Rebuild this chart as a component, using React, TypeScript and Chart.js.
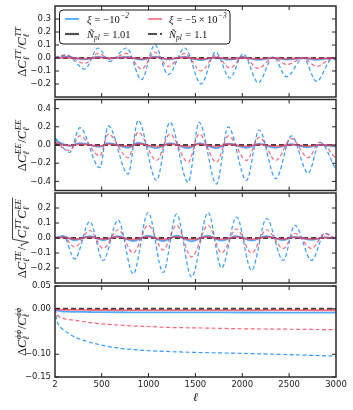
import React, { useEffect, useRef } from 'react';
import { Chart, registerables } from 'chart.js';

Chart.register(...registerables);

const W = 353;
const H = 410;
const PLOT_LEFT = 55;
const PLOT_RIGHT = 336;

// ---------- data ----------
const X_TICKS = [2, 500, 1000, 1500, 2000, 2500, 3000];

// TT panel
const ellTT = [2, 120, 320, 462, 587, 765, 925, 1067, 1209, 1387, 1560, 1715, 1868, 2010, 2170, 2330, 2473, 2650, 2793, 2960, 3000];
const ttBlueDashed = [0.005, 0.025, -0.085, 0.077, -0.026, 0.077, -0.167, 0.102, -0.128, 0.077, -0.2, 0.045, -0.154, 0.032, -0.19, 0.008, -0.145, 0.0, -0.18, -0.005, -0.015];
const ttRedDashed = [0.0, 0.02, -0.042, 0.035, -0.01, 0.035, -0.085, 0.045, -0.065, 0.035, -0.1, 0.02, -0.077, 0.012, -0.08, 0.002, -0.05, -0.003, -0.065, -0.005, -0.012];
const ttBlueSolid = [0.0, 0.008, -0.01, 0.008, -0.003, 0.008, -0.014, 0.01, -0.011, 0.008, -0.016, 0.005, -0.013, 0.004, -0.015, 0.001, -0.012, 0.0, -0.014, -0.001, -0.003];
const ttRedSolid = [0.0, 0.004, -0.005, 0.004, -0.001, 0.004, -0.007, 0.005, -0.006, 0.004, -0.008, 0.003, -0.006, 0.002, -0.007, 0.0, -0.006, 0.0, -0.007, 0.0, -0.002];
const ttTicks = [-0.2, -0.1, 0.0, 0.1, 0.2, 0.3];

// EE panel
const ellEE = [2, 160, 267, 480, 570, 782, 889, 1085, 1227, 1423, 1540, 1725, 1850, 2045, 2180, 2358, 2525, 2703, 2828, 3000];
const eeBlueDashed = [0.08, -0.08, 0.19, -0.25, 0.21, -0.32, 0.27, -0.39, 0.25, -0.41, 0.25, -0.43, 0.2, -0.39, 0.165, -0.37, 0.1, -0.31, 0.03, -0.27];
const eeRedDashed = [0.03, -0.06, 0.1, -0.12, 0.12, -0.14, 0.14, -0.17, 0.12, -0.19, 0.12, -0.19, 0.1, -0.17, 0.085, -0.17, 0.07, -0.14, 0.03, -0.15];
const eeBlueSolid = [0.05, -0.01, 0.02, -0.02, 0.02, -0.03, 0.025, -0.035, 0.02, -0.035, 0.02, -0.035, 0.015, -0.03, 0.012, -0.03, 0.008, -0.025, 0.003, -0.02];
const eeRedSolid = [0.025, -0.005, 0.01, -0.01, 0.01, -0.015, 0.012, -0.017, 0.01, -0.018, 0.01, -0.018, 0.008, -0.015, 0.006, -0.015, 0.004, -0.012, 0.002, -0.01];
const eeTicks = [-0.4, -0.2, 0.0, 0.2, 0.4];

// TE panel
const ellTE = [2, 90, 213, 373, 515, 675, 836, 996, 1156, 1299, 1459, 1636, 1779, 1939, 2099, 2259, 2437, 2561, 2740, 2881, 3000];
const teBlueDashed = [0.0, 0.015, -0.14, 0.11, -0.15, 0.12, -0.24, 0.17, -0.23, 0.16, -0.26, 0.17, -0.2, 0.14, -0.215, 0.13, -0.15, 0.085, -0.15, 0.03, -0.02];
const teRedDashed = [0.0, 0.005, -0.06, 0.05, -0.07, 0.055, -0.1, 0.085, -0.08, 0.085, -0.127, 0.085, -0.1, 0.06, -0.1, 0.055, -0.07, 0.03, -0.07, 0.03, -0.005];
const teBlueSolid = [0.0, 0.01, -0.015, 0.012, -0.015, 0.012, -0.02, 0.015, -0.02, 0.015, -0.022, 0.015, -0.018, 0.012, -0.018, 0.012, -0.014, 0.008, -0.013, 0.004, -0.002];
const teRedSolid = [0.0, 0.005, -0.008, 0.006, -0.008, 0.006, -0.01, 0.008, -0.01, 0.008, -0.011, 0.008, -0.009, 0.006, -0.009, 0.006, -0.007, 0.004, -0.007, 0.002, -0.001];
const teTicks = [-0.2, -0.1, 0.0, 0.1, 0.2];

// phi-phi panel
const ellPP = [2, 25, 50, 90, 150, 200, 300, 400, 550, 700, 850, 1000, 1200, 1500, 2000, 2500, 3000];
const ppBlueDashed = [0.0, -0.028, -0.038, -0.046, -0.055, -0.061, -0.069, -0.075, -0.082, -0.087, -0.09, -0.092, -0.094, -0.096, -0.098, -0.101, -0.104];
const ppRedDashed = [0.0, -0.013, -0.018, -0.021, -0.024, -0.025, -0.028, -0.031, -0.034, -0.036, -0.038, -0.039, -0.041, -0.042, -0.044, -0.045, -0.046];
const ppBlueSolid = [0.0, -0.004, -0.005, -0.006, -0.0065, -0.007, -0.007, -0.0072, -0.0075, -0.0077, -0.0078, -0.0079, -0.008, -0.008, -0.0082, -0.0083, -0.0085];
const ppRedSolid = [0.0, -0.0015, -0.002, -0.0022, -0.0024, -0.0025, -0.0026, -0.0027, -0.0028, -0.0029, -0.003, -0.003, -0.003, -0.0031, -0.0032, -0.0032, -0.0033];
const ppTicks = [-0.15, -0.1, 0.0, 0.05];

// ---------- styles ----------
const BLUE = 'rgba(30,144,255,0.9)';
const RED = 'rgba(240,55,80,0.75)';
const BLUE_SOLID = 'rgba(30,144,255,0.75)';
const RED_SOLID = 'rgba(240,55,80,0.7)';
const ZERO = 'rgba(30,30,30,0.85)';
const TICK_FAMILY = '"DejaVu Sans", sans-serif';
const TICK_SIZE = 8.5;
const MATH_FAMILY = '"Liberation Serif", "DejaVu Serif", serif';

type Seg =
  | { k: 't'; s: string; it?: boolean }
  | { k: 'ss'; sub?: string; sup?: string }
  | { k: 'sqrt'; body: Seg[] }
  | { k: 'sp'; w: number };

const mf = (size: number, it?: boolean) => `${it ? 'italic ' : ''}${size}px ${MATH_FAMILY}`;

function segWidth(ctx: CanvasRenderingContext2D, segs: Seg[], F: number): number {
  let w = 0;
  for (const s of segs) {
    if (s.k === 't') {
      ctx.font = mf(F, s.it);
      w += ctx.measureText(s.s).width;
    } else if (s.k === 'ss') {
      ctx.font = mf(F * 0.7, true);
      const a = s.sub ? ctx.measureText(s.sub).width : 0;
      const b = s.sup ? ctx.measureText(s.sup).width + F * 0.05 : 0;
      w += Math.max(a, b) + F * 0.06;
    } else if (s.k === 'sqrt') {
      w += F * 0.7 + segWidth(ctx, s.body, F) + F * 0.05;
    } else {
      w += s.w * F;
    }
  }
  return w;
}

function drawSegs(ctx: CanvasRenderingContext2D, segs: Seg[], F: number, x0: number, y: number): number {
  let x = x0;
  for (const s of segs) {
    if (s.k === 't') {
      ctx.font = mf(F, s.it);
      ctx.fillText(s.s, x, y);
      x += ctx.measureText(s.s).width;
    } else if (s.k === 'ss') {
      ctx.font = mf(F * 0.7, true);
      let w = 0;
      if (s.sup) {
        ctx.fillText(s.sup, x + F * 0.05, y - F * 0.42);
        w = Math.max(w, ctx.measureText(s.sup).width + F * 0.05);
      }
      if (s.sub) {
        ctx.fillText(s.sub, x, y + F * 0.25);
        w = Math.max(w, ctx.measureText(s.sub).width);
      }
      x += w + F * 0.06;
    } else if (s.k === 'sqrt') {
      const bw = segWidth(ctx, s.body, F);
      const top = y - F * 1.08;
      ctx.save();
      ctx.lineWidth = Math.max(0.8, F * 0.06);
      ctx.beginPath();
      ctx.moveTo(x + F * 0.05, y - F * 0.33);
      ctx.lineTo(x + F * 0.17, y - F * 0.4);
      ctx.lineTo(x + F * 0.36, y + F * 0.2);
      ctx.lineTo(x + F * 0.62, top);
      ctx.lineTo(x + F * 0.7 + bw + F * 0.05, top);
      ctx.stroke();
      ctx.restore();
      x = drawSegs(ctx, s.body, F, x + F * 0.7, y);
      x += F * 0.05;
    } else {
      x += s.w * F;
    }
  }
  return x;
}

const T = (s: string, it = false): Seg => ({ k: 't', s, it });
const SS = (sub?: string, sup?: string): Seg => ({ k: 'ss', sub, sup });
const SP = (w: number): Seg => ({ k: 'sp', w });

const labelTT: Seg[] = [T('Δ'), T('C', true), SS('ℓ', 'TT'), T('/'), T('C', true), SS('ℓ', 'TT')];
const labelEE: Seg[] = [T('Δ'), T('C', true), SS('ℓ', 'EE'), T('/'), T('C', true), SS('ℓ', 'EE')];
const labelTE: Seg[] = [T('Δ'), T('C', true), SS('ℓ', 'TE'), T('/'), { k: 'sqrt', body: [T('C', true), SS('ℓ', 'TT'), T('C', true), SS('ℓ', 'EE')] }];
const labelPP: Seg[] = [T('Δ'), T('C', true), SS('ℓ', 'ϕϕ'), T('/'), T('C', true), SS('ℓ', 'ϕϕ')];

const legendItems: { segs: Seg[]; color: string; dash: number[]; width: number; col: number; row: number }[] = [
  { segs: [T('ξ', true), SP(0.28), T('='), SP(0.28), T('−'), T('10'), SS(undefined, '−2')], color: BLUE, dash: [], width: 1.6, col: 0, row: 0 },
  { segs: [T('ξ', true), SP(0.28), T('='), SP(0.28), T('−'), T('5'), SP(0.22), T('×'), SP(0.22), T('10'), SS(undefined, '−3')], color: RED, dash: [], width: 1.6, col: 1, row: 0 },
  { segs: [T('Ñ', true), SS('pl'), SP(0.28), T('='), SP(0.28), T('1.01')], color: 'rgba(60,60,60,0.9)', dash: [], width: 2.2, col: 0, row: 1 },
  { segs: [T('Ñ', true), SS('pl'), SP(0.28), T('='), SP(0.28), T('1.1')], color: 'rgba(60,60,60,0.9)', dash: [9, 3], width: 2.2, col: 1, row: 1 },
];

type Panel = {
  top: number;
  bottom: number;
  yMin: number;
  yMax: number;
  yTicks: number[];
  dec: number;
  ell: number[];
  bd: number[];
  rd: number[];
  bs: number[];
  rs: number[];
  label: Seg[];
  showX: boolean;
  legend: boolean;
};

const panels: Panel[] = [
  { top: 6, bottom: 97, yMin: -0.3, yMax: 0.4, yTicks: ttTicks, dec: 1, ell: ellTT, bd: ttBlueDashed, rd: ttRedDashed, bs: ttBlueSolid, rs: ttRedSolid, label: labelTT, showX: false, legend: true },
  { top: 99.5, bottom: 190.5, yMin: -0.5, yMax: 0.5, yTicks: eeTicks, dec: 1, ell: ellEE, bd: eeBlueDashed, rd: eeRedDashed, bs: eeBlueSolid, rs: eeRedSolid, label: labelEE, showX: false, legend: false },
  { top: 193, bottom: 283, yMin: -0.3, yMax: 0.3, yTicks: teTicks, dec: 1, ell: ellTE, bd: teBlueDashed, rd: teRedDashed, bs: teBlueSolid, rs: teRedSolid, label: labelTE, showX: false, legend: false },
  { top: 286, bottom: 377, yMin: -0.15, yMax: 0.05, yTicks: ppTicks, dec: 2, ell: ellPP, bd: ppBlueDashed, rd: ppRedDashed, bs: ppBlueSolid, rs: ppRedSolid, label: labelPP, showX: true, legend: false },
];

const fmt = (v: number, dec: number) => {
  const s = Math.abs(v).toFixed(dec);
  return (v < -1e-9 ? '\u2212' : '') + s;
};

function decorPlugin(p: Panel) {
  return {
    id: 'decor',
    afterDraw(chart: any) {
      const ctx: CanvasRenderingContext2D = chart.ctx;
      const { left, right, top, bottom } = chart.chartArea;
      const xs = chart.scales.x;
      const ys = chart.scales.y;
      ctx.save();
      // inward ticks
      ctx.strokeStyle = '#222';
      ctx.lineWidth = 1;
      const TL = 4;
      for (const v of p.yTicks) {
        const y = ys.getPixelForValue(v);
        ctx.beginPath();
        ctx.moveTo(left, y);
        ctx.lineTo(left + TL, y);
        ctx.moveTo(right, y);
        ctx.lineTo(right - TL, y);
        ctx.stroke();
      }
      for (const v of X_TICKS) {
        if (v === 2 || v === 3000) continue;
        const x = xs.getPixelForValue(v);
        ctx.beginPath();
        ctx.moveTo(x, top);
        ctx.lineTo(x, top + TL);
        ctx.moveTo(x, bottom);
        ctx.lineTo(x, bottom - TL);
        ctx.stroke();
      }
      // frame
      ctx.strokeStyle = '#2a2a2a';
      ctx.lineWidth = 1.5;
      ctx.strokeRect(left, top, right - left, bottom - top);

      // y label
      ctx.fillStyle = '#111';
      ctx.strokeStyle = '#111';
      ctx.textBaseline = 'alphabetic';
      ctx.textAlign = 'left';
      const F = 12.5;
      ctx.save();
      ctx.translate(26, (top + bottom) / 2);
      ctx.rotate(-Math.PI / 2);
      const w = segWidth(ctx, p.label, F);
      drawSegs(ctx, p.label, F, -w / 2, 0);
      ctx.restore();

      // y tick labels (positions from the y scale)
      for (const v of p.yTicks) {
        const y = ys.getPixelForValue(v);
        ctx.save();
        ctx.fillStyle = '#222';
        ctx.font = `${TICK_SIZE}px ${TICK_FAMILY}`;
        ctx.textAlign = 'right';
        ctx.textBaseline = 'middle';
        ctx.fillText(fmt(v, p.dec), left - 4, y);
        ctx.restore();
      }

      // legend
      if (p.legend) {
        const bx = 59.5, by = 10, bw = 170.5, bh = 34;
        ctx.beginPath();
        ctx.roundRect(bx, by, bw, bh, 3.5);
        ctx.fillStyle = 'rgba(255,255,255,0.9)';
        ctx.fill();
        ctx.strokeStyle = '#111';
        ctx.lineWidth = 1;
        ctx.stroke();
        const LF = 10.5;
        const colLine = [65, 148];
        const colText = [87, 169];
        const rowY = [19, 34];
        for (const it of legendItems) {
          const y = rowY[it.row];
          const x0 = colLine[it.col];
          ctx.save();
          ctx.strokeStyle = it.color;
          ctx.lineWidth = it.width;
          ctx.setLineDash(it.dash);
          ctx.beginPath();
          ctx.moveTo(x0, y);
          ctx.lineTo(x0 + 14, y);
          ctx.stroke();
          ctx.restore();
          ctx.fillStyle = '#111';
          drawSegs(ctx, it.segs, LF, colText[it.col], y + 3.5);
        }
      }
      ctx.restore();
    },
  };
}

function makeChart(canvas: HTMLCanvasElement, p: Panel) {
  const pts = (ys: number[]) => p.ell.map((x, i) => ({ x, y: ys[i] }));
  const line = (data: any[], color: string, dashed: boolean, order: number) => ({
    data,
    borderColor: color,
    borderWidth: dashed ? 1.2 : 1.8,
    borderDash: dashed ? [4, 2.5] : [],
    pointRadius: 0,
    fill: false,
    cubicInterpolationMode: 'monotone',
    order,
  });
  return new Chart(canvas, {
    type: 'line',
    data: {
      datasets: [
        line(pts(p.rs), RED_SOLID, false, 0),
        line(pts(p.bs), BLUE_SOLID, false, 1),
        {
          data: [{ x: 2, y: 0 }, { x: 3000, y: 0 }],
          borderColor: ZERO,
          borderWidth: 1.8,
          borderDash: [5, 3],
          pointRadius: 0,
          fill: false,
          order: 2,
        },
        line(pts(p.rd), RED, true, 3),
        line(pts(p.bd), BLUE, true, 4),
      ] as any,
    },
    options: {
      animation: false,
      responsive: false,
      maintainAspectRatio: false,
      events: [],
      layout: {
        padding: { left: 0, right: W - PLOT_RIGHT, top: p.top, bottom: p.showX ? 5 : H - p.bottom },
      },
      plugins: { legend: { display: false }, tooltip: { enabled: false } },
      scales: {
        x: {
          type: 'linear',
          min: 2,
          max: 3000,
          display: p.showX,
          afterBuildTicks: (s: any) => {
            s.ticks = X_TICKS.map((v) => ({ value: v }));
          },
          afterFit: (s: any) => {
            if (p.showX) s.height = H - 5 - p.bottom;
          },
          grid: { display: false, drawTicks: false },
          border: { display: false },
          ticks: {
            font: { family: TICK_FAMILY, size: TICK_SIZE },
            color: '#222',
            padding: 3,
            maxRotation: 0,
            autoSkip: false,
            callback: (v: any) => String(v),
          },
          title: {
            display: true,
            text: 'ℓ',
            color: '#111',
            font: { family: MATH_FAMILY, style: 'italic', size: 12 },
            padding: 0,
          },
        },
        y: {
          type: 'linear',
          min: p.yMin,
          max: p.yMax,
          afterBuildTicks: (s: any) => {
            s.ticks = p.yTicks.map((v) => ({ value: v }));
          },
          afterFit: (s: any) => {
            s.width = PLOT_LEFT;
          },
          grid: { display: false, drawTicks: false },
          border: { display: false },
          ticks: { display: false },
        },
      },
    } as any,
    plugins: [decorPlugin(p)],
  });
}

export default function App() {
  const refs = [useRef<HTMLCanvasElement>(null), useRef<HTMLCanvasElement>(null), useRef<HTMLCanvasElement>(null), useRef<HTMLCanvasElement>(null)];
  useEffect(() => {
    const charts = panels.map((p, i) => makeChart(refs[i].current as HTMLCanvasElement, p));
    return () => charts.forEach((c) => c.destroy());
  }, []);
  return (
    <div style={{ position: 'fixed', left: 0, top: 0, width: W, height: H, background: '#fff' }}>
      {panels.map((_, i) => (
        <canvas
          key={i}
          ref={refs[i]}
          width={W}
          height={H}
          style={{ position: 'absolute', left: 0, top: 0, width: W, height: H }}
        />
      ))}
    </div>
  );
}
